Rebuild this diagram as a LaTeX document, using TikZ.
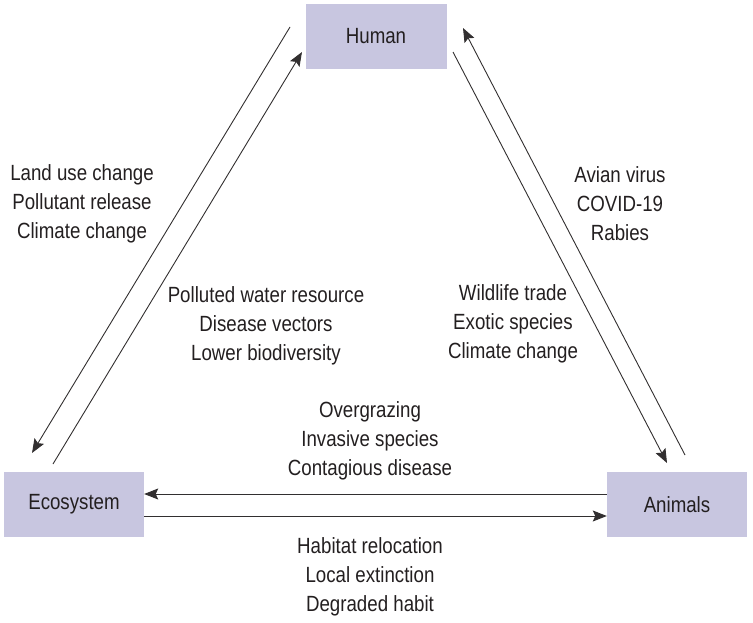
\documentclass[tikz,border=0pt]{standalone}
\usepackage{fontspec}
\setmainfont[FakeStretch=0.85]{Liberation Sans}
\usetikzlibrary{arrows.meta}
\definecolor{boxfill}{RGB}{200,198,224}
\definecolor{ink}{RGB}{35,31,32}
\definecolor{linec}{RGB}{50,47,48}
\begin{document}
\begin{tikzpicture}[x=1pt,y=-1pt,
  entity/.style={rectangle,fill=boxfill,draw=none,minimum width=140pt,minimum height=65pt,inner sep=0pt,text=ink,font=\fontsize{22}{29}\selectfont},
  lbl/.style={align=center,text=ink,inner sep=0pt,font=\fontsize{22}{29}\selectfont},
  conn/.style={draw=linec,line width=0.9pt,-{Stealth[length=14pt,width=11pt,inset=2.5pt]}}]
\useasboundingbox (0,0) rectangle (753,623);
\node[entity,minimum width=141pt] (human) at (376,36.5) {Human};
\node[entity] (eco) at (74,504.5) {Ecosystem};
\node[entity] (ani) at (677,504.5) {Animals};
% left pair
\coordinate (hl1) at (290,27);
\coordinate (el1) at (32,453);
\coordinate (el2) at (53,464);
\coordinate (hl2) at (302,52);
% right pair
\coordinate (hr1) at (453,52);
\coordinate (ar1) at (667,463);
\coordinate (ar2) at (685,455);
\coordinate (hr2) at (463,28);
\draw[conn] (hl1) -- (el1);
\draw[conn] (el2) -- (hl2);
\draw[conn] (hr1) -- (ar1);
\draw[conn] (ar2) -- (hr2);
\draw[conn] (ani.west |- 0,494) -- (eco.east |- 0,494);
\draw[conn] (eco.east |- 0,516) -- (ani.west |- 0,516);
\node[lbl] (l1) at (82,204) {Land use change\\Pollutant release\\Climate change};
\node[lbl] (l2) at (266,326) {Polluted water resource\\Disease vectors\\Lower biodiversity};
\node[lbl] (r1) at (620,204) {Avian virus\\COVID-19\\Rabies};
\node[lbl] (r2) at (513,324) {Wildlife trade\\Exotic species\\Climate change};
\node[lbl] (b1) at (370,441) {Overgrazing\\Invasive species\\Contagious disease};
\node[lbl] (b2) at (370,577) {Habitat relocation\\Local extinction\\Degraded habit};
\end{tikzpicture}
\end{document}
